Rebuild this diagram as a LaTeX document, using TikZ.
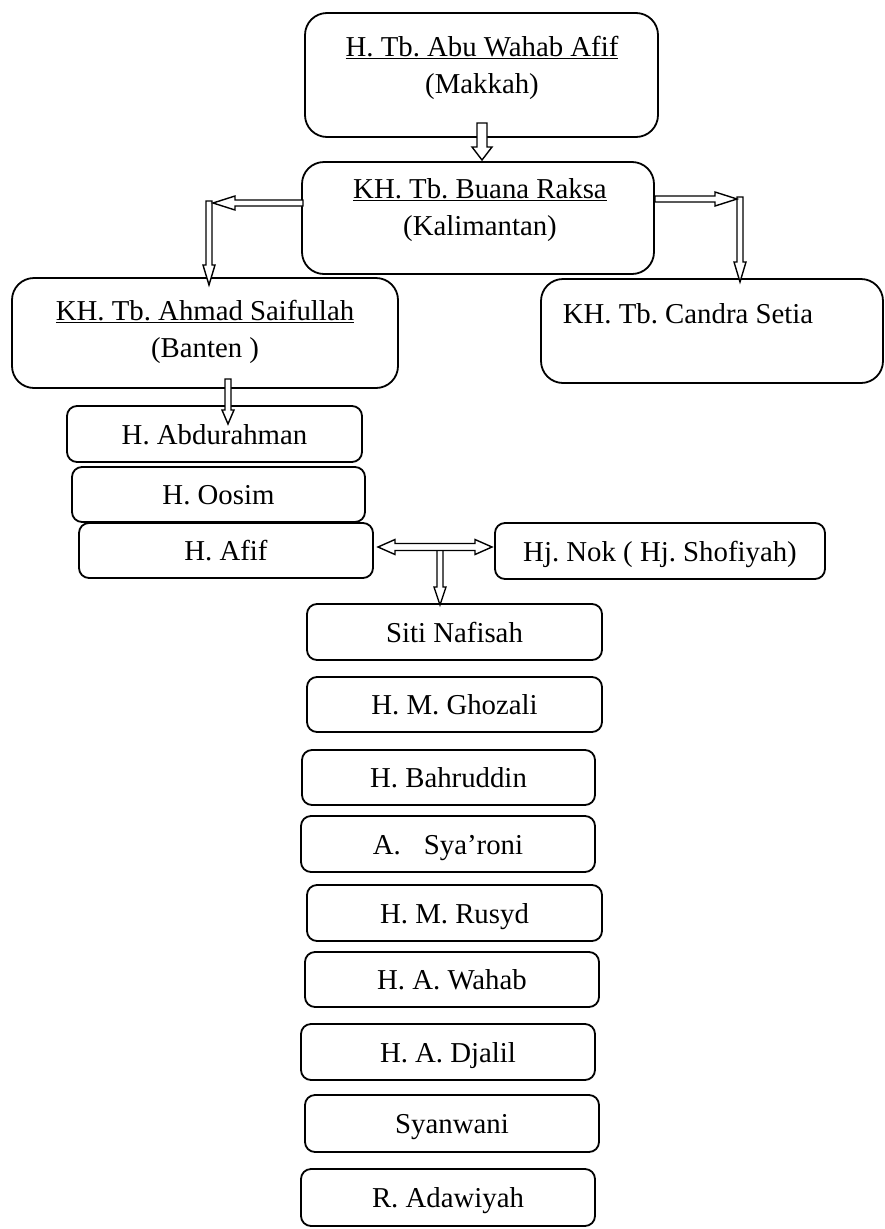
\documentclass[tikz,border=0pt]{standalone}
\usepackage{fontspec}
\setmainfont{Liberation Serif}
\frenchspacing
\newcommand\blkdown[6]{% x, ytop, ytip, half shaft, half head, head length
  \draw[blk] (#1-#4,#2) -- (#1+#4,#2) -- (#1+#4,#3-#6) -- (#1+#5,#3-#6) -- (#1,#3) -- (#1-#5,#3-#6) -- (#1-#4,#3-#6) -- cycle;}
\newcommand\blkleft[6]{% y, xstart, xtip, hs, hh, hl
  \draw[blk] (#2,#1-#4) -- (#3+#6,#1-#4) -- (#3+#6,#1-#5) -- (#3,#1) -- (#3+#6,#1+#5) -- (#3+#6,#1+#4) -- (#2,#1+#4) -- cycle;}
\newcommand\blkright[6]{% y, xstart, xtip, hs, hh, hl
  \draw[blk] (#2,#1-#4) -- (#3-#6,#1-#4) -- (#3-#6,#1-#5) -- (#3,#1) -- (#3-#6,#1+#5) -- (#3-#6,#1+#4) -- (#2,#1+#4) -- cycle;}
\newcommand\blkboth[6]{% y, xl, xr, hs, hh, hl
  \draw[blk] (#2,#1) -- (#2+#6,#1-#5) -- (#2+#6,#1-#4) -- (#3-#6,#1-#4) -- (#3-#6,#1-#5) -- (#3,#1) -- (#3-#6,#1+#5) -- (#3-#6,#1+#4) -- (#2+#6,#1+#4) -- (#2+#6,#1+#5) -- cycle;}
\begin{document}
\begin{tikzpicture}[x=1pt,y=-1pt,
  box/.style={draw, line width=1.8pt, rounded corners=10pt, inner sep=0pt,
    font=\fontsize{28.8}{36}\selectfont},
  sbox/.style={box, text height=26pt, text depth=6pt},
  bigbox/.style={box, rounded corners=22pt},
  txt/.style={align=center, inner sep=0pt, font=\fontsize{28.8}{37}\selectfont},
  blk/.style={draw, fill=white, line width=1.4pt, line join=miter}]
\useasboundingbox (0,0) rectangle (885,1229);

% big boxes
\node[bigbox, minimum width=353pt, minimum height=124pt] (top) at (481.5,75) {};
\node[txt] (toptxt) at (482,68) {\underline{H. Tb. Abu Wahab Afif}\\(Makkah)};
\node[bigbox, minimum width=352pt, minimum height=112pt] (buana) at (478,218) {};
\node[txt] (buanatxt) at (480,210) {\underline{KH. Tb. Buana Raksa}\\(Kalimantan)};
\node[bigbox, minimum width=386pt, minimum height=110pt] (ahmad) at (205,333) {};
\node[txt] (ahmadtxt) at (205,332) {\underline{KH. Tb. Ahmad Saifullah}\\(Banten )};
\node[bigbox, minimum width=342pt, minimum height=104pt] (candra) at (712,331) {};
\node[txt] (candratxt) at (688,314) {KH. Tb. Candra Setia};

% small boxes
\node[sbox, minimum width=295pt, minimum height=56pt] (abdu) at (214.5,434) {H. Abdurahman};
\node[sbox, minimum width=293pt, minimum height=55pt] (oosim) at (218.5,494.5) {H. Oosim};
\node[sbox, minimum width=294pt, minimum height=55pt] (afif) at (226,550.5) {H. Afif};
\node[sbox, minimum width=330pt, minimum height=56pt] (nok) at (660,551) {Hj. Nok ( Hj. Shofiyah)};
\node[sbox, minimum width=295pt, minimum height=56pt] (siti) at (454.5,632) {Siti Nafisah};
\node[sbox, minimum width=295pt, minimum height=55pt] (ghozali) at (454.5,704.5) {H. M. Ghozali};
\node[sbox, minimum width=293pt, minimum height=55pt] (bahr) at (448.5,777.5) {H. Bahruddin};
\node[sbox, minimum width=294pt, minimum height=56pt] (syaroni) at (448,844) {A.\hspace{0.8em}Sya’roni};
\node[sbox, minimum width=295pt, minimum height=56pt] (rusyd) at (454.5,913) {H. M. Rusyd};
\node[sbox, minimum width=294pt, minimum height=55pt] (wahab) at (452,979.5) {H. A. Wahab};
\node[sbox, minimum width=294pt, minimum height=56pt] (djalil) at (448,1052) {H. A. Djalil};
\node[sbox, minimum width=294pt, minimum height=57pt] (syanwani) at (452,1123.5) {Syanwani};
\node[sbox, minimum width=294pt, minimum height=57pt] (adawiyah) at (448,1197.5) {R. Adawiyah};

% block arrows
\blkdown{482}{123}{160}{5}{10}{13}
\blkdown{209}{201}{285}{3}{6}{20}
\blkleft{203}{303}{213}{3}{7}{22}
\blkdown{740}{197}{282}{3}{6}{20}
\blkright{199}{655}{737}{3}{7}{22}
\blkdown{228}{379}{424}{3}{6}{14}
\blkdown{440}{547}{605}{3}{6}{18}
\blkboth{547}{378}{492}{3.5}{7.5}{17}
\end{tikzpicture}
\end{document}
